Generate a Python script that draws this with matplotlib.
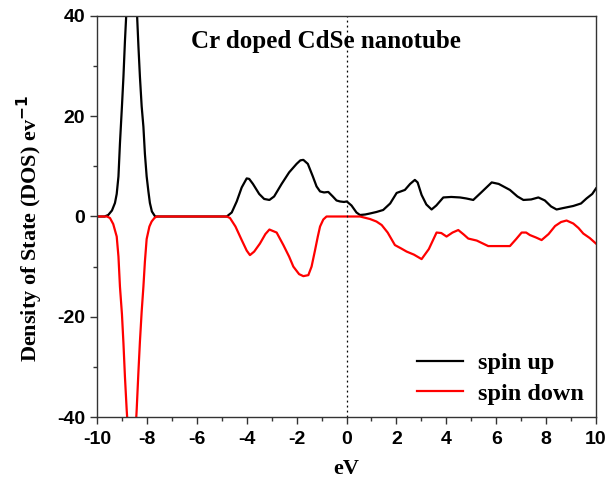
import numpy as np
import matplotlib
matplotlib.use("Agg")
import matplotlib.pyplot as plt
from matplotlib.ticker import MultipleLocator

plt.rcParams["axes.unicode_minus"] = False

# energy (eV) and DOS values
up_e = [-10.0, -9.7, -9.55, -9.4, -9.28, -9.21, -9.14, -9.08, -9.0, -8.94, -8.88, -8.81,
        -8.7, -8.6, -8.5, -8.41, -8.34, -8.28, -8.21, -8.14, -8.08, -8.01, -7.94, -7.88,
        -7.8, -7.67, -6.0, -4.8, -4.6, -4.4, -4.2, -4.0, -3.9, -3.75, -3.5, -3.3, -3.09,
        -2.9, -2.6, -2.3, -2.0, -1.85, -1.73, -1.55, -1.35, -1.2, -1.06, -0.9, -0.73,
        -0.55, -0.4, -0.26, -0.1, 0.01, 0.2, 0.4, 0.54, 0.75, 0.94, 1.2, 1.47, 1.75,
        2.01, 2.34, 2.55, 2.74, 2.85, 3.01, 3.2, 3.41, 3.6, 3.88, 4.2, 4.55, 4.8, 5.08,
        5.4, 5.82, 6.1, 6.55, 6.85, 7.09, 7.4, 7.69, 7.95, 8.2, 8.42, 8.7, 9.09, 9.4,
        9.62, 9.85, 10.0]
up_dos = [0.0, 0.0, 0.3, 1.2, 2.7, 4.5, 8.0, 14.6, 22.0, 27.9, 35.0, 42.0,
          50.0, 52.0, 50.0, 42.0, 34.0, 27.9, 22.0, 17.9, 12.5, 8.0, 5.0, 2.7,
          1.0, 0.0, 0.0, 0.0, 0.8, 3.0, 5.8, 7.6, 7.5, 6.5, 4.5, 3.5, 3.3,
          4.0, 6.5, 8.8, 10.5, 11.2, 11.3, 10.5, 8.0, 6.0, 5.0, 4.8, 4.9,
          4.0, 3.2, 3.0, 2.9, 3.0, 2.2, 0.8, 0.3, 0.4, 0.6, 0.9, 1.3, 2.6,
          4.7, 5.3, 6.5, 7.3, 6.8, 4.3, 2.4, 1.4, 2.2, 3.8, 3.9, 3.8, 3.6, 3.3,
          4.8, 6.8, 6.5, 5.3, 4.0, 3.3, 3.4, 3.8, 3.2, 2.0, 1.4, 1.7, 2.1, 2.6,
          3.6, 4.5, 5.6]

down_e = [-10.0, -9.6, -9.48, -9.35, -9.21, -9.14, -9.08, -9.0, -8.94, -8.88, -8.81,
          -8.7, -8.6, -8.5, -8.41, -8.34, -8.28, -8.21, -8.14, -8.08, -8.01, -7.9,
          -7.81, -7.7, -7.61, -6.0, -4.8, -4.67, -4.45, -4.2, -4.0, -3.87, -3.7, -3.47,
          -3.25, -3.09, -2.8, -2.53, -2.3, -2.13, -1.9, -1.73, -1.53, -1.4, -1.26,
          -1.15, -1.06, -0.93, -0.8, 0.0, 0.54, 0.94, 1.2, 1.41, 1.65, 1.94, 2.2,
          2.41, 2.7, 3.01, 3.3, 3.61, 3.8, 4.01, 4.25, 4.48, 4.7, 4.88, 5.22, 5.68,
          6.1, 6.55, 6.8, 7.02, 7.2, 7.35, 7.6, 7.82, 8.1, 8.36, 8.6, 8.82, 9.09,
          9.3, 9.49, 9.75, 10.0]
down_dos = [0.0, 0.0, -0.3, -1.5, -4.0, -8.0, -14.0, -19.5, -25.3, -32.0, -38.6,
            -47.0, -50.0, -47.0, -38.6, -31.0, -25.0, -19.0, -14.0, -9.0, -4.5, -2.0,
            -1.0, -0.3, 0.0, 0.0, 0.0, -0.3, -2.0, -4.7, -6.8, -7.7, -7.0, -5.4,
            -3.5, -2.6, -3.2, -5.7, -8.0, -10.0, -11.5, -11.9, -11.7, -10.0, -6.7,
            -4.0, -2.0, -0.6, 0.0, 0.0, 0.0, -0.5, -1.0, -1.7, -3.2, -5.7, -6.4,
            -7.0, -7.6, -8.5, -6.5, -3.2, -3.3, -4.0, -3.2, -2.7, -3.6, -4.4, -4.8, -5.9,
            -5.9, -5.9, -4.5, -3.2, -3.2, -3.7, -4.2, -4.7, -3.5, -1.9, -1.1, -0.8, -1.4,
            -2.3, -3.4, -4.3, -5.4]

xticks = [-10, -8, -6, -4, -2, 0, 2, 4, 6, 8, 10]
yticks = [-40, -20, 0, 20, 40]

fig = plt.figure(figsize=(6.08, 4.87), dpi=100)
ax = fig.add_axes([97/608, 1 - 417/487, (596-97)/608, (417-16)/487])

ax.plot(up_e, up_dos, color="black", lw=1.6, label="spin up")
ax.plot(down_e, down_dos, color="red", lw=1.6, label="spin down")
ax.axvline(0, color="black", lw=0.9, ls=(0, (1.5, 2.5)))

ax.set_xlim(-10, 10)
ax.set_ylim(-40, 40)
ax.set_xticks(xticks)
ax.set_yticks(yticks)
ax.xaxis.set_minor_locator(MultipleLocator(1))
ax.yaxis.set_minor_locator(MultipleLocator(10))
ax.tick_params(which="both", direction="out", width=1, color="#333333")
ax.tick_params(which="major", length=5)
ax.tick_params(which="minor", length=3)
ax.tick_params(axis="x", pad=5)
for lab in ax.get_xticklabels() + ax.get_yticklabels():
    lab.set_fontfamily("Liberation Sans")
    lab.set_fontweight("bold")
    lab.set_fontsize(14)
for sp in ax.spines.values():
    sp.set_color("#333333")
    sp.set_linewidth(1)

serif = {"family": "Liberation Serif", "weight": "bold"}
ax.set_xlabel("eV", fontdict=serif, fontsize=16, labelpad=8)
ax.set_ylabel("Density of State (DOS) ev$^{\\mathbf{-1}}$", fontdict=serif, fontsize=16)
ax.yaxis.set_label_coords(-0.105, 0.47)
ax.text(-0.82, 35.0, "Cr doped CdSe nanotube", ha="center", va="center", fontdict=serif, fontsize=18)

leg = ax.legend(loc="lower right", frameon=False, prop={"family": "Liberation Serif", "weight": "bold", "size": 17.5},
                handlelength=1.9, handletextpad=0.6, labelspacing=0.35, borderaxespad=0.1)

fig.savefig("out.png", dpi=100)
